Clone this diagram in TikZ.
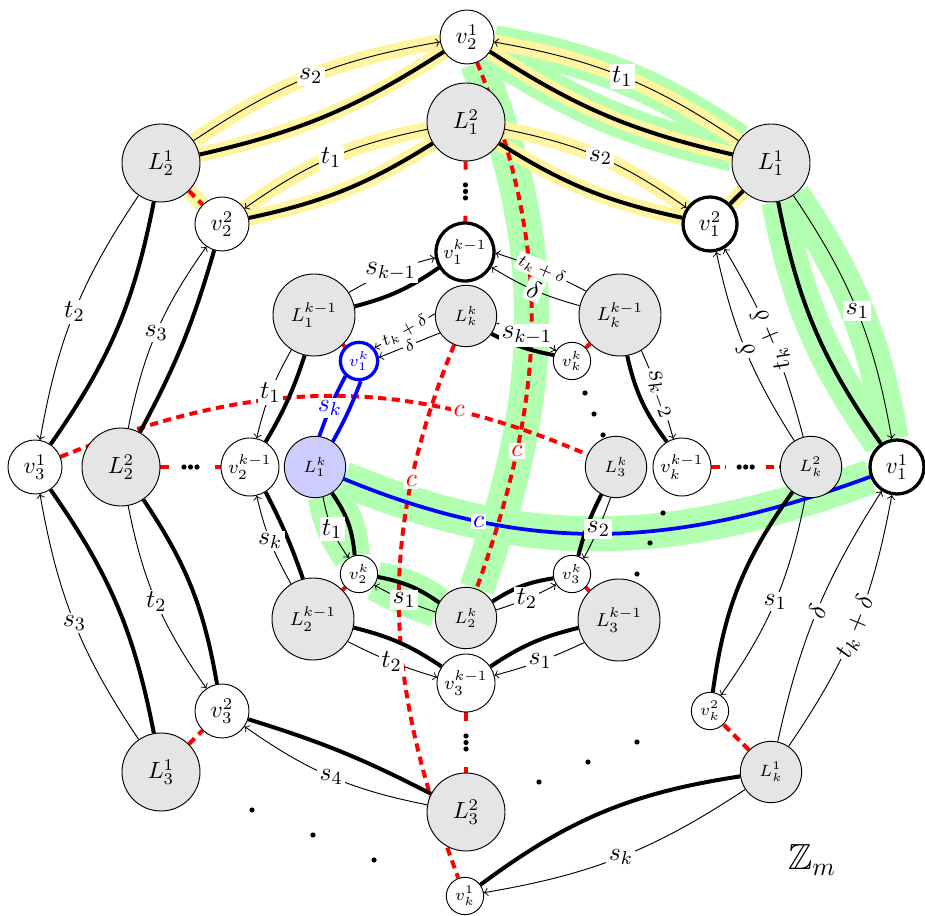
\documentclass[tikz,border=0pt]{standalone}
\usepackage{amssymb}
\usetikzlibrary{calc}
\definecolor{hlyel}{RGB}{255,245,160}
\definecolor{hlgrn}{RGB}{178,255,178}
\pgfdeclarelayer{lgreen}
\pgfdeclarelayer{lyellow}
\pgfdeclarelayer{ledges}
\pgfsetlayers{lgreen,lyellow,ledges,main}
\begin{document}
\begin{tikzpicture}[x=0.015cm, y=0.015cm,
  gn/.style={circle, draw, thin, fill=gray!20, inner sep=0pt},
  wn/.style={circle, draw, thin, fill=white, inner sep=0pt},
  gbig/.style={gn, minimum size=1.17cm},
  gmed/.style={gn, minimum size=1.23cm, font=\footnotesize},
  gsml/.style={gn, minimum size=0.92cm, font=\scriptsize},
  wbig/.style={wn, minimum size=0.81cm},
  wmed/.style={wn, minimum size=0.87cm, font=\footnotesize},
  wsml/.style={wn, minimum size=0.56cm, font=\scriptsize},
  heavy/.style={line width=1.4pt},
  thk/.style={line width=1.7pt},
  arr/.style={->, thin},
  lbl/.style={fill=white, inner sep=1pt, font=\fontsize{11}{13}\selectfont},
  rd/.style={red, line width=1.7pt, dash pattern=on 3.5pt off 2.3pt},
  grnA/.style={draw=hlgrn, line width=15pt},
  grnB/.style={draw=hlgrn, line width=13pt},
  grnC/.style={draw=hlgrn, line width=14.5pt},
  ylw/.style={draw=hlyel, line width=6.5pt},
  dotbox/.style={fill=white, inner sep=0pt, minimum width=0.6cm, minimum height=0.25cm},
  dotboxv/.style={fill=white, inner sep=0pt, minimum height=0.6cm, minimum width=0.25cm},
  bl/.style={blue, line width=1.6pt}
]
\useasboundingbox (0,0) rectangle (925,-916);

% ---------------- nodes ----------------
\node[gbig] (L21) at (161,-163) {$L_2^1$};
\node[gbig] (L12) at (466,-122) {$L_1^2$};
\node[gbig] (L11) at (771,-163) {$L_1^1$};
\node[gbig] (L22) at (121,-467) {$L_2^2$};
\node[gbig] (L31) at (161,-772) {$L_3^1$};
\node[gbig] (L32) at (466,-812) {$L_3^2$};
\node[gmed] (L1k1) at (314,-315) {$L_1^{k-1}$};
\node[gmed] (Lkk1) at (620,-315) {$L_k^{k-1}$};
\node[gmed] (L2k1) at (313,-619) {$L_2^{k-1}$};
\node[gmed] (L3k1) at (619,-620) {$L_3^{k-1}$};
\node[gsml] (Lkk) at (466,-316) {$L_k^k$};
\node[gsml, fill=blue!20] (L1k) at (315,-467) {$L_1^k$};
\node[gsml] (L3k) at (616,-467) {$L_3^k$};
\node[gsml] (L2k) at (466,-618) {$L_2^k$};
\node[gsml] (Lk2) at (811,-467) {$L_k^2$};
\node[gsml] (Lk1) at (771,-772) {$L_k^1$};
\node[wbig] (v21) at (467,-37) {$v_2^1$};
\node[wbig] (v22) at (222,-224) {$v_2^2$};
\node[wbig, heavy] (v12) at (710,-224) {$v_1^2$};
\node[wbig] (v31) at (35,-467) {$v_3^1$};
\node[wbig, heavy] (v11) at (897,-467) {$v_1^1$};
\node[wbig] (v32) at (222,-711) {$v_3^2$};
\node[wmed, heavy] (v1k1) at (465,-252) {$v_1^{k-1}$};
\node[wmed] (v2k1) at (250,-467) {$v_2^{k-1}$};
\node[wmed] (vkk1) at (682,-467) {$v_k^{k-1}$};
\node[wmed] (v3k1) at (466,-683) {$v_3^{k-1}$};
\node[wsml, draw=blue, text=blue, heavy] (v1k) at (359,-361) {$v_1^k$};
\node[wsml] (vkk) at (572,-361) {$v_k^k$};
\node[wsml] (v2k) at (359,-574) {$v_2^k$};
\node[wsml] (v3k) at (572,-574) {$v_3^k$};
\node[wsml] (vk2) at (710,-711) {$v_k^2$};
\node[wsml] (vk1) at (465,-896) {$v_k^1$};

\node (zm) at (812,-860) {\fontsize{15.5}{18}\selectfont $\mathbb{Z}_m$};

\foreach \p in {(585,-393),(594,-414),(603,-435),(663,-513),(650,-543),(637,-574),(637,-742),(588,-762),(539,-782),(252,-810),(313,-835),(374,-860)}
  \fill \p circle (2.6);

% ---------------- green highlights ----------------
\begin{pgfonlayer}{lgreen}
  \draw[grnC] (L11) to[bend left=10] (v21);
  \draw[grnC] (L11) to[bend right=12] (v21);
  \draw[grnC] (L11) to[bend right=12] (v11);
  \draw[grnC] (L11) to[bend left=12] (v11);
  \draw[grnB] (L1k.-57) to[bend left=15] (v2k.103);
  \draw[grnB] (L1k.-75) to[bend right=12] (v2k.123);
  \draw[grnB] (L2k.150) to[bend right=12] (v2k.-9);
  \draw[grnB] (L2k.169) to[bend left=5] (v2k.-36);
  \draw[grnA] (v21) .. controls (553,-253) and (547,-393) .. (L2k);
  \draw[grnA] (L1k) .. controls (533,-557) and (676,-548) .. (v11);
\end{pgfonlayer}

% ---------------- yellow highlights ----------------
\begin{pgfonlayer}{lyellow}
  \draw[ylw] (L21) to[bend right=10] (v21);
  \draw[ylw] (L21) to[bend left=12] (v21);
  \draw[ylw] (L11) to[bend left=10] (v21);
  \draw[ylw] (L11) to[bend right=12] (v21);
  \draw[ylw] (L12) to[bend left=10] (v22);
  \draw[ylw] (L12) to[bend right=12] (v22);
  \draw[ylw] (L12) to[bend right=10] (v12);
  \draw[ylw] (L12) to[bend left=12] (v12);
  \draw[ylw] (L11) -- (v12);
  \draw[ylw] (L21) -- (v22);
\end{pgfonlayer}

% ---------------- edges ----------------
\begin{pgfonlayer}{ledges}
  % red dashed c-curves
  \draw[rd] (v21) .. controls (553,-253) and (547,-393) .. node[pos=0.75, lbl, text=red] {$c$} (L2k);
  \draw[rd] (v31) .. controls (252,-380) and (396,-372) .. node[pos=0.765, lbl, text=red] {$c$} (L3k);
  \draw[rd] (Lkk) .. controls (372,-545) and (388,-690) .. node[pos=0.24, lbl, text=red] {$c$} (vk1);
  % short red dashed
  \draw[rd] (L21) -- (v22);
  \draw[rd] (L31) -- (v32);
  \draw[rd] (Lk1) -- (vk2);
  \draw[rd] (L1k1) -- (v1k);
  \draw[rd] (Lkk1) -- (vkk);
  \draw[rd] (L2k1) -- (v2k);
  \draw[rd] (L3k1) -- (v3k);
  \draw[rd] (L22) -- node[dotbox] (d1) {} (v2k1);
  \draw[rd] (vkk1) -- node[dotbox] (d2) {} (Lk2);
  \draw[rd] (L12) -- node[dotboxv] (d3) {} (v1k1);
  \draw[rd] (v3k1) -- node[dotboxv] (d4) {} (L32);
  \foreach \d in {-6.5,0,6.5} {
    \fill ($(d1)+(\d,0)$) circle (2.6);
    \fill ($(d2)+(\d,0)$) circle (2.6);
    \fill ($(d3)+(0,\d)$) circle (2.6);
    \fill ($(d4)+(0,\d)$) circle (2.6);
  }
  % blue curve
  \draw[bl] (L1k) .. controls (533,-557) and (676,-548) .. node[pos=0.25, lbl, text=blue] {$c$} (v11);

  % outer pairs
  \draw[thk] (L21) to[bend right=10] (v21);
  \draw[arr] (L21) to[bend left=12] node[lbl] {$s_2$} (v21);
  \draw[thk] (L11) to[bend left=10] (v21);
  \draw[arr] (L11) to[bend right=12] node[lbl] {$t_1$} (v21);
  \draw[thk] (L12) to[bend left=10] (v22);
  \draw[arr] (L12) to[bend right=12] node[lbl] {$t_1$} (v22);
  \draw[thk] (L12) to[bend right=10] (v12);
  \draw[arr] (L12) to[bend left=12] node[lbl] {$s_2$} (v12);
  \draw[thk] (L11) -- (v12);
  \draw[thk] (L21) to[bend left=12] (v31);
  \draw[arr] (L21) to[bend right=12] node[lbl] {$t_2$} (v31);
  \draw[thk] (L22) to[bend right=6] (v22);
  \draw[arr] (L22) to[bend left=12] node[lbl] {$s_3$} (v22);
  \draw[thk] (L22) to[bend left=12] (v32);
  \draw[arr] (L22) to[bend right=12] node[lbl] {$t_2$} (v32);
  \draw[thk] (L31) to[bend right=12] (v31);
  \draw[arr] (L31) to[bend left=12] node[lbl] {$s_3$} (v31);
  \draw[thk] (L32) to[bend right=5] (v32);
  \draw[arr] (L32) to[bend left=12] node[lbl] {$s_4$} (v32);
  \draw[thk] (L11) to[bend right=12] (v11);
  \draw[arr] (L11) to[bend left=12] node[lbl] {$s_1$} (v11);
  \draw[thk] (Lk2) to[bend right=14] (vk2);
  \draw[arr] (Lk2) to[bend left=12] node[lbl] {$s_1$} (vk2);
  \draw[thk] (Lk1) to[bend right=14] (vk1);
  \draw[arr] (Lk1) to[bend left=12] node[lbl] {$s_k$} (vk1);
  \draw[arr] (Lk2) to[bend left=10] node[lbl, sloped, allow upside down] {$\delta$} (v12);
  \draw[arr] (Lk2) to[bend right=8] node[lbl, sloped, allow upside down] {$t_k+\delta$} (v12);
  \draw[arr] (Lk1) to[bend left=10] node[lbl, sloped] {$\delta$} (v11);
  \draw[arr] (Lk1) to[bend right=12] node[lbl, sloped] {$t_k+\delta$} (v11);

  % inner ring
  \draw[thk] (L1k1.12) to[bend right=10] (v1k1.211);
  \draw[arr] (L1k1.33) to[bend left=8] node[lbl, font=\large] {$s_{k-1}$} (v1k1.191);
  \draw[arr] (Lkk1.145) to[bend right=5] node[lbl, sloped, font=\scriptsize] {$t_k+\delta$} (v1k1.-2);
  \draw[arr] (Lkk1.167) to[bend left=8] node[lbl, sloped] {$\delta$} (v1k1.-30);
  \draw[thk] (L1k1.257) to[bend left=6] (v2k1.58);
  \draw[arr] (L1k1.237) to[bend right=8] node[lbl] {$t_1$} (v2k1.77);
  \draw[thk] (L2k1.104) to[bend right=4] (v2k1.-58);
  \draw[arr] (L2k1.122) to[bend left=8] node[lbl] {$s_k$} (v2k1.-77);
  \draw[thk] (L2k1.-12) to[bend left=10] (v3k1.146);
  \draw[arr] (L2k1.-33) to[bend right=5] node[lbl] {$t_2$} (v3k1.169);
  \draw[thk] (L3k1.191) to[bend right=10] (v3k1.34);
  \draw[arr] (L3k1.213) to[bend left=5] node[lbl] {$s_1$} (v3k1.15);
  \draw[thk] (Lkk1.-80) to[bend right=12] (vkk1.121);
  \draw[arr] (Lkk1.-59) to[bend left=4] node[lbl, sloped, font=\large] {$s_{k-2}$} (vkk1.107);

  % innermost
  \draw[thk] (Lkk.-35) to[bend right=8] (vkk.162);
  \draw[arr] (Lkk.-13) to[bend left=5] node[lbl, font=\large] {$s_{k-1}$} (vkk.147);
  \draw[arr] (Lkk.176) -- node[lbl, sloped, font=\scriptsize] {$t_k+\delta$} (v1k.40);
  \draw[arr] (Lkk.213) -- node[lbl, sloped, font=\scriptsize] {$\delta$} (v1k.10);
  \draw[thk] (L1k.-57) to[bend left=15] (v2k.103);
  \draw[arr] (L1k.-75) to[bend right=12] node[lbl] {$t_1$} (v2k.123);
  \draw[thk] (L2k.150) to[bend right=12] (v2k.-9);
  \draw[arr] (L2k.169) to[bend left=5] node[lbl] {$s_1$} (v2k.-36);
  \draw[thk] (L2k.32) to[bend left=12] (v3k.193);
  \draw[arr] (L2k.15) to[bend right=5] node[lbl] {$t_2$} (v3k.214);
  \draw[thk] (L3k.242) to[bend right=6] (v3k.71);
  \draw[arr] (L3k.260) to[bend left=4] node[lbl] {$s_2$} (v3k.53);
  \draw[bl] (L1k.82) to[bend left=4] node[lbl, text=blue, pos=0.45] {$s_k$} (v1k.228);
  \draw[bl] (L1k.55) to[bend right=4] (v1k.275);
\end{pgfonlayer}
\end{tikzpicture}
\end{document}
